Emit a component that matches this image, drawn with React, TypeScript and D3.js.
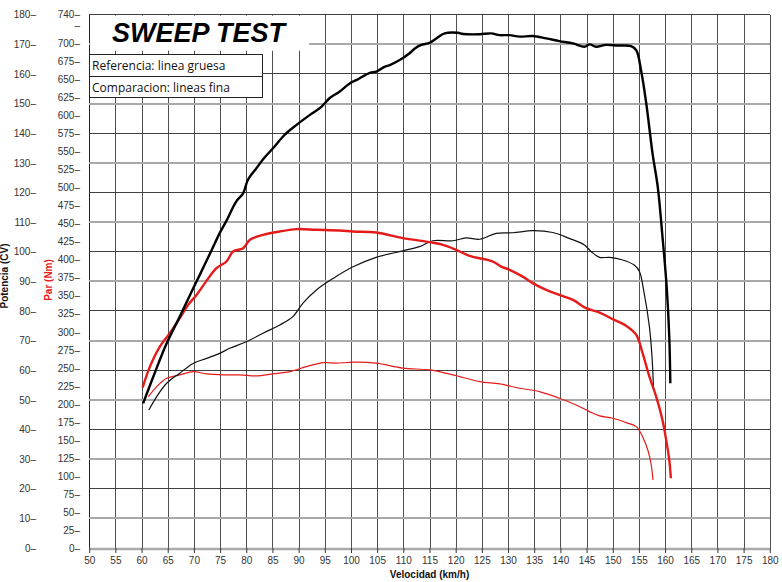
import { useRef, useEffect } from "react";
import * as d3 from "d3";

// [km/h, CV] thick black = referencia potencia
const refPower: [number, number][] = [
  [60.3, 48.8], [62.5, 59], [64.8, 69.1], [67.3, 78.1], [69.85, 87.6], [71.1, 92.1],
  [73.4, 100.6], [74.9, 106.2], [76.2, 110.4], [78.1, 117], [79.4, 119.7], [80.3, 124.2],
  [81.9, 128.1], [83.5, 131.8], [85.1, 134.9], [87.3, 139.4], [89.6, 142.8], [92.1, 146.1],
  [94.35, 148.9], [95.9, 151.8], [97.8, 154], [99.75, 156.8], [101, 157.9], [103.6, 160.4],
  [104.85, 160.8], [106.4, 162.4], [107.4, 163], [109.3, 164.7], [111.2, 167], [112.2, 168.6],
  [113.4, 169.8], [115, 170.5], [116.3, 172], [117.9, 173.7], [120.4, 173.9], [121.4, 173.5],
  [124.6, 173.4], [126.8, 173.7], [128.4, 173.1], [130.3, 173.1], [132.2, 172.6], [134.7, 172.8],
  [137.3, 172], [139.8, 171.1], [142.4, 170.3], [144.6, 169.2], [145.6, 170], [146.8, 169.2],
  [148.7, 169.8], [151, 169.6], [153.5, 169.4], [154.5, 168], [155.4, 161.3], [156.4, 150.1],
  [157.6, 133.2], [158.6, 121.9], [159.5, 105.1], [160.3, 88.2], [160.8, 71.3], [161, 55.6],
];

// [km/h, Nm] thick red = referencia par
const refTorque: [number, number][] = [
  [60.2, 222.5], [61.6, 251.7], [63.5, 279.5], [65.4, 298], [67.3, 318.9], [68.9, 337.4],
  [70.5, 351.2], [72.1, 367.5], [74.3, 388.3], [76.2, 397.5], [77.5, 411.4], [79.4, 416],
  [80.7, 427.6], [83.2, 434.5], [86.4, 439.1], [89.6, 442.5], [93.4, 441.5], [97.8, 440.5],
  [100.4, 439.1], [104.8, 437.7], [109.9, 430], [115, 424.4], [117.6, 420.7], [120.1, 413.7],
  [122.65, 405.4], [127.1, 397.5], [128.7, 390.5], [130.3, 386], [132.8, 376.6], [134.7, 367.5],
  [137.3, 358.2], [139.8, 351.2], [142.4, 344.3], [144.9, 332.8], [147.5, 326.7], [150, 317.5],
  [152.6, 308.2], [154.5, 295.7], [155.7, 270.3], [157, 237.8], [158.3, 210], [159.5, 177.7],
  [160.2, 150], [160.8, 122.2], [161.1, 96.8],
];

// [km/h, CV] thin black = comparacion potencia
const compPower: [number, number][] = [
  [61.4, 46.6], [62.9, 51.1], [64.8, 55.6], [67.3, 59], [69.85, 62.3], [72.4, 64],
  [74.9, 65.7], [76.85, 67.4], [80, 69.6], [83.2, 72.5], [86.4, 75.3], [88.9, 78.1],
  [90.8, 82.6], [93.4, 87.1], [96.6, 91], [100.4, 94.9], [104.8, 98.1], [109.9, 100.3],
  [113.1, 101.7], [115.6, 103.7], [119.5, 103.7], [122, 104.7], [124.6, 104.2], [127.75, 106.2],
  [130.9, 106.4], [134.7, 107.1], [138.55, 106.5], [141.7, 104.5], [144.6, 102.3], [145.9, 100],
  [147.5, 98.1], [149.4, 98.1], [151.9, 97.2], [154.1, 95.5], [155.1, 93.3], [156, 86],
  [157, 74.7], [157.5, 64.6], [157.8, 53.3],
];

// [km/h, Nm] thin red = comparacion par
const compTorque: [number, number][] = [
  [61.3, 210], [62.9, 224], [64.8, 235.6], [67.3, 240.2], [69.85, 244.8], [72.4, 241.6],
  [75.6, 240.2], [78.8, 240.2], [81.9, 238.8], [85.1, 241.6], [88.3, 244.8], [91.5, 251.7],
  [94.7, 257.3], [97.2, 256.4], [100.4, 257.8], [104.8, 256.4], [109.9, 249.5], [115, 247.1],
  [119.5, 240.2], [124.6, 230.9], [128.4, 227.7], [132.2, 221.7], [136, 217], [139.8, 207.8],
  [143, 198.5], [145.55, 189.2], [147.5, 183.3], [150, 180], [152.55, 174], [154.5, 168.4],
  [155.7, 154.5], [156.7, 136], [157.3, 117.6], [157.7, 94.4],
];

const speedTicks = d3.range(50, 181, 5);
const cvTicks = d3.range(0, 181, 10);
const nmTicks = [...d3.range(0, 726, 25), 740];
const legendLines = ["Referencia: linea gruesa", "Comparacion: lineas fina"];

const RED = "#e51b1b";
const FONT = "'Liberation Sans', Arial, sans-serif";

const App = () => {
  const svgRef = useRef<SVGSVGElement>(null);

  useEffect(() => {
    const svg = d3.select(svgRef.current);
    svg.selectAll("*").remove();

    const x = d3.scaleLinear().domain([50, 180]).range([89.2, 769.8]);
    const yCv = d3.scaleLinear().domain([0, 180]).range([548, 14.7]);
    const yNm = d3.scaleLinear().domain([0, 740]).range([548, 14.7]);

    svg.append("rect").attr("width", 782).attr("height", 582).attr("fill", "#fff");

    // grid
    const grid = svg.append("g").attr("shape-rendering", "crispEdges");
    grid.selectAll(".gx")
      .data(speedTicks)
      .enter()
      .append("line")
      .attr("x1", (d) => Math.round(x(d)) + 0.5)
      .attr("x2", (d) => Math.round(x(d)) + 0.5)
      .attr("y1", yCv(180))
      .attr("y2", yCv(0))
      .style("stroke", (d) => (d === 50 ? "#222" : "#505050"))
      .style("stroke-width", 1);

    grid.selectAll(".gy")
      .data(cvTicks.filter((d) => d > 0))
      .enter()
      .append("line")
      .attr("x1", x(50))
      .attr("x2", x(180))
      .attr("y1", (d) => yCv(d))
      .attr("y2", (d) => yCv(d))
      .style("stroke", (d) => ((d / 10) % 2 === 1 ? "#a8a8a8" : "#404040"))
      .style("stroke-width", (d) => ((d / 10) % 2 === 1 ? 2 : 1));

    // bottom axis
    svg.append("line")
      .attr("x1", x(50))
      .attr("x2", x(180))
      .attr("y1", yCv(0) + 1)
      .attr("y2", yCv(0) + 1)
      .style("stroke", "#aaa")
      .style("stroke-width", 2.5);

    const xAxis = svg.append("g")
      .attr("transform", `translate(0,${yCv(0)})`)
      .call(d3.axisBottom(x).tickValues(speedTicks).tickSize(5).tickPadding(4).tickFormat((d) => `${d}`));
    xAxis.select(".domain").remove();
    xAxis.selectAll("line").style("stroke", "#333");
    xAxis.selectAll("text").style("font-family", FONT).style("font-size", "10px").style("fill", "#333");

    const cvAxis = svg.append("g")
      .attr("transform", "translate(36,0)")
      .call(d3.axisLeft(yCv).tickValues(cvTicks).tickSize(0).tickPadding(0).tickFormat((d) => `${d}–`));
    cvAxis.select(".domain").remove();
    cvAxis.selectAll("text").style("font-family", FONT).style("font-size", "10px").style("fill", "#333");

    const nmAxis = svg.append("g")
      .attr("transform", "translate(80,0)")
      .call(
        d3.axisLeft(yNm)
          .tickValues(nmTicks)
          .tickSize(0)
          .tickPadding(0)
          .tickFormat((d) => (d === 725 ? "–" : `${d}–`))
      );
    nmAxis.select(".domain").remove();
    nmAxis.selectAll("text").style("font-family", FONT).style("font-size", "10px").style("fill", "#333");

    // axis titles
    svg.append("text")
      .attr("transform", "translate(8,276) rotate(-90)")
      .style("text-anchor", "middle")
      .style("font-family", FONT)
      .style("font-size", "10px")
      .style("font-weight", "bold")
      .style("fill", "#111")
      .text("Potencia (CV)");

    svg.append("text")
      .attr("transform", "translate(52,280) rotate(-90)")
      .style("text-anchor", "middle")
      .style("font-family", FONT)
      .style("font-size", "10px")
      .style("font-weight", "bold")
      .style("fill", RED)
      .text("Par (Nm)");

    svg.append("text")
      .attr("x", (x(50) + x(180)) / 2)
      .attr("y", 578)
      .style("text-anchor", "middle")
      .style("font-family", FONT)
      .style("font-size", "10px")
      .style("font-weight", "bold")
      .style("fill", "#111")
      .text("Velocidad (km/h)");

    // title box
    svg.append("rect")
      .attr("x", x(50) + 1)
      .attr("y", yCv(180) + 1)
      .attr("width", 219)
      .attr("height", 35)
      .attr("fill", "#fff");

    svg.append("text")
      .attr("x", 112)
      .attr("y", 42)
      .style("font-family", FONT)
      .style("font-size", "27px")
      .style("font-weight", "bold")
      .style("font-style", "italic")
      .style("fill", "#000")
      .text("SWEEP TEST");

    // legend boxes
    const legend = svg.append("g").attr("shape-rendering", "crispEdges");
    legendLines.forEach((label, i) => {
      legend.append("rect")
        .attr("x", Math.round(x(50)) + 0.5)
        .attr("y", 54.5 + i * 21.5)
        .attr("width", 173)
        .attr("height", 21.5)
        .attr("fill", "#fff")
        .style("stroke", "#222")
        .style("stroke-width", 1);
      svg.append("text")
        .attr("x", 92)
        .attr("y", 70 + i * 21.5)
        .style("font-family", "'Open Sans', 'Noto Sans', sans-serif")
        .style("font-size", "12px")
        .style("fill", "#111")
        .text(label);
    });

    // curves
    const lineCv = d3.line<[number, number]>()
      .x((d) => x(d[0]))
      .y((d) => yCv(d[1]))
      .curve(d3.curveCatmullRom.alpha(0.5));
    const lineNm = d3.line<[number, number]>()
      .x((d) => x(d[0]))
      .y((d) => yNm(d[1]))
      .curve(d3.curveCatmullRom.alpha(0.5));

    const series = [
      { data: compTorque, line: lineNm, color: RED, width: 1.2 },
      { data: compPower, line: lineCv, color: "#111", width: 1.2 },
      { data: refTorque, line: lineNm, color: RED, width: 2.4 },
      { data: refPower, line: lineCv, color: "#000", width: 2.4 },
    ];
    series.forEach((s) => {
      svg.append("path")
        .datum(s.data)
        .attr("fill", "none")
        .attr("stroke", s.color)
        .attr("stroke-width", s.width)
        .attr("stroke-linejoin", "round")
        .attr("d", s.line);
    });
  }, []);

  return (
    <svg
      ref={svgRef}
      width={782}
      height={582}
      style={{ position: "absolute", left: 0, top: 0, display: "block" }}
    ></svg>
  );
};

export default App;
